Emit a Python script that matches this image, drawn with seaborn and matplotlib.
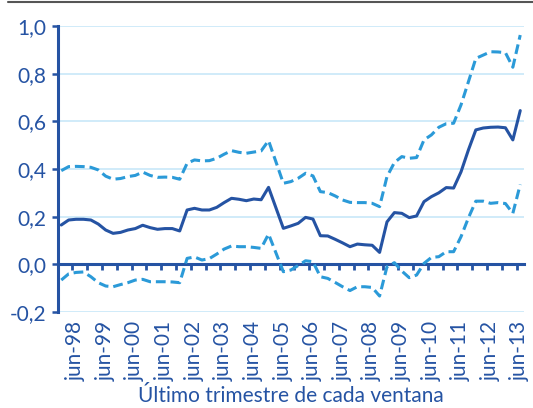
import matplotlib
matplotlib.use("Agg")
import matplotlib.pyplot as plt
import seaborn as sns
import pandas as pd
from matplotlib.ticker import FixedLocator, FuncFormatter
from matplotlib.lines import Line2D

# -------------------------------
# DATA - quarterly windows, dec-97 .. jun-13
# -------------------------------
central = [0.165, 0.186, 0.189, 0.189, 0.186, 0.169, 0.144, 0.130, 0.134, 0.144,
           0.150, 0.164, 0.154, 0.147, 0.150, 0.150, 0.140, 0.228, 0.235, 0.228,
           0.228, 0.239, 0.259, 0.277, 0.273, 0.267, 0.274, 0.271, 0.323, 0.237,
           0.151, 0.161, 0.172, 0.197, 0.190, 0.120, 0.119, 0.105, 0.090, 0.074,
           0.085, 0.082, 0.080, 0.050, 0.178, 0.217, 0.214, 0.196, 0.203, 0.263,
           0.284, 0.300, 0.322, 0.320, 0.388, 0.480, 0.564, 0.572, 0.575, 0.576,
           0.573, 0.522, 0.645]
superior = [0.393, 0.410, 0.411, 0.410, 0.407, 0.396, 0.370, 0.357, 0.360, 0.368,
            0.373, 0.387, 0.373, 0.365, 0.366, 0.365, 0.357, 0.424, 0.438, 0.434,
            0.435, 0.445, 0.462, 0.477, 0.470, 0.466, 0.471, 0.476, 0.519, 0.430,
            0.340, 0.347, 0.361, 0.382, 0.371, 0.305, 0.301, 0.287, 0.270, 0.260,
            0.259, 0.259, 0.256, 0.242, 0.368, 0.427, 0.452, 0.445, 0.448, 0.522,
            0.543, 0.575, 0.590, 0.592, 0.669, 0.766, 0.864, 0.878, 0.892, 0.891,
            0.888, 0.827, 0.962]
inferior = [-0.066, -0.040, -0.034, -0.032, -0.052, -0.077, -0.091, -0.094, -0.085, -0.077,
            -0.066, -0.063, -0.073, -0.073, -0.073, -0.074, -0.077, 0.025, 0.031, 0.018,
            0.024, 0.043, 0.064, 0.077, 0.074, 0.074, 0.071, 0.067, 0.127, 0.048,
            -0.031, -0.024, -0.005, 0.015, 0.011, -0.052, -0.059, -0.076, -0.094, -0.110,
            -0.094, -0.094, -0.097, -0.133, -0.010, 0.007, -0.028, -0.056, -0.045, 0.004,
            0.029, 0.032, 0.053, 0.053, 0.116, 0.195, 0.265, 0.265, 0.256, 0.259,
            0.255, 0.214, 0.335]
etiquetas = ["jun-98", "jun-99", "jun-00", "jun-01", "jun-02", "jun-03", "jun-04", "jun-05",
             "jun-06", "jun-07", "jun-08", "jun-09", "jun-10", "jun-11", "jun-12", "jun-13"]

AZUL = "#2553a3"
CELESTE = "#2b9ad8"
GRID = "#c8e8f8"

df = pd.DataFrame({"t": range(len(central)), "central": central,
                   "superior": superior, "inferior": inferior})

sns.set_style("white")
plt.rcParams["font.family"] = ["Lato", "DejaVu Sans"]

fig = plt.figure(figsize=(5.33, 4.08), dpi=100)
ax = fig.add_axes([0.108, 0.2353, 0.875, 0.701])

dash = (0, (3.2, 1.6))
sns.lineplot(data=df, x="t", y="superior", ax=ax, color=CELESTE, lw=2.2, linestyle=dash)
sns.lineplot(data=df, x="t", y="inferior", ax=ax, color=CELESTE, lw=2.2, linestyle=dash)
sns.lineplot(data=df, x="t", y="central", ax=ax, color=AZUL, lw=2.2)

ax.set_xlim(-0.5, len(central) - 0.5)
ax.set_ylim(-0.2, 1.0)

# y axis
ax.set_yticks([-0.2, 0.0, 0.2, 0.4, 0.6, 0.8, 1.0])
ax.yaxis.set_major_formatter(FuncFormatter(lambda v, p: f"{v:.1f}".replace(".", ",").replace("-0,0", "0,0")))
ax.tick_params(axis="y", direction="out", length=4, width=1.8, color=AZUL,
               labelcolor=AZUL, labelsize=15, pad=4, left=True)
ax.yaxis.grid(True, color=GRID, lw=1.2)
ax.set_axisbelow(True)

# x axis on zero line
ax.spines["bottom"].set_position(("data", 0))
for s in ["top", "right"]:
    ax.spines[s].set_visible(False)
for s in ["left", "bottom"]:
    ax.spines[s].set_color(AZUL)
    ax.spines[s].set_linewidth(2.2)
    ax.spines[s].set_zorder(1.5)

pos_etiq = [2 + 4 * i for i in range(len(etiquetas))]
ax.xaxis.set_major_locator(FixedLocator(pos_etiq))
ax.set_xticklabels(etiquetas, rotation=90)
ax.xaxis.set_minor_locator(FixedLocator([1.5 + 2 * i for i in range(31)]))
ax.tick_params(axis="x", which="major", length=0, labelcolor=AZUL, labelsize=15, pad=41, bottom=True)
ax.tick_params(axis="x", which="minor", direction="out", length=4, width=2, color=AZUL, bottom=True)

ax.set_xlabel("Último trimestre de cada ventana", color=AZUL, fontsize=15, labelpad=3)
ax.set_ylabel("")

fig.add_artist(Line2D([0.015, 1.0], [0.994, 0.994], transform=fig.transFigure,
                      color="#555555", lw=1.5))

fig.savefig("out.png", dpi=100)
